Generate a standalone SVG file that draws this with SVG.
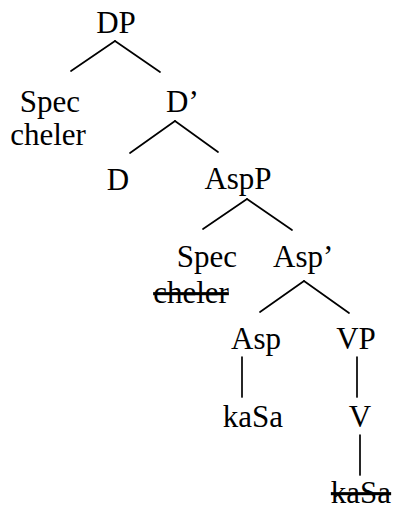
<svg xmlns="http://www.w3.org/2000/svg" width="393" height="508" viewBox="0 0 393 508">
<rect width="393" height="508" fill="#fff"/>
<g id="edges" stroke="#000" stroke-width="1.7" stroke-linecap="round">
<line x1="115" y1="41" x2="71" y2="71"/>
<line x1="115" y1="41" x2="160" y2="72"/>
<line x1="175" y1="121" x2="130" y2="153"/>
<line x1="175" y1="121" x2="218" y2="152"/>
<line x1="247" y1="199" x2="203" y2="229"/>
<line x1="247" y1="199" x2="292" y2="230"/>
<line x1="304" y1="281" x2="260" y2="312"/>
<line x1="304" y1="281" x2="349" y2="313"/>
<line x1="242" y1="357" x2="242" y2="397"/>
<line x1="357" y1="357" x2="357" y2="397"/>
<line x1="360" y1="435" x2="360" y2="475"/>
</g>
<g id="n-DP" font-family="Liberation Serif, Times New Roman, serif" font-size="31"><text x="116" y="33" text-anchor="middle">DP</text></g>
<g id="n-Spec1" font-family="Liberation Serif, Times New Roman, serif" font-size="31"><text x="50" y="112" text-anchor="middle">Spec</text><text x="48" y="145" text-anchor="middle">cheler</text></g>
<g id="n-Dbar" font-family="Liberation Serif, Times New Roman, serif" font-size="31"><text x="166" y="112">D&#8217;</text></g>
<g id="n-D" font-family="Liberation Serif, Times New Roman, serif" font-size="31"><text x="118" y="190" text-anchor="middle">D</text></g>
<g id="n-AspP" font-family="Liberation Serif, Times New Roman, serif" font-size="31"><text x="238" y="189" text-anchor="middle">AspP</text></g>
<g id="n-Spec2" font-family="Liberation Serif, Times New Roman, serif" font-size="31"><text x="207" y="267" text-anchor="middle">Spec</text><text x="191" y="303" text-anchor="middle" text-decoration="line-through">cheler</text></g>
<g id="n-Aspbar" font-family="Liberation Serif, Times New Roman, serif" font-size="31"><text x="273" y="267">Asp&#8217;</text></g>
<g id="n-Asp" font-family="Liberation Serif, Times New Roman, serif" font-size="31"><text x="256" y="349" text-anchor="middle">Asp</text></g>
<g id="n-VP" font-family="Liberation Serif, Times New Roman, serif" font-size="31"><text x="356" y="349" text-anchor="middle">VP</text></g>
<g id="n-kaSa1" font-family="Liberation Serif, Times New Roman, serif" font-size="31"><text x="253" y="427" text-anchor="middle">kaSa</text></g>
<g id="n-V" font-family="Liberation Serif, Times New Roman, serif" font-size="31"><text x="360" y="427" text-anchor="middle">V</text></g>
<g id="n-kaSa2" font-family="Liberation Serif, Times New Roman, serif" font-size="31"><text x="361" y="503" text-anchor="middle" text-decoration="line-through">kaSa</text></g>
</svg>
